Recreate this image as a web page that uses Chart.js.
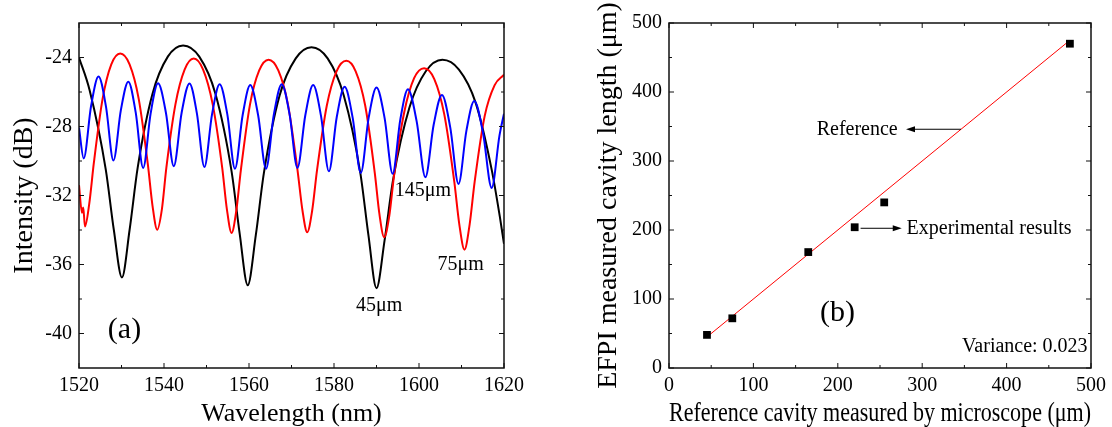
<!DOCTYPE html>
<html>
<head>
<meta charset="utf-8">
<script src="https://cdn.jsdelivr.net/npm/chart.js@4.4.1/dist/chart.umd.min.js"></script>
<style>
  body { margin: 0; background: #fff; width: 1112px; height: 427px; overflow: hidden; position: relative; }
  #spectra { position: absolute; left: 0; top: 0; }
  #cavity { position: absolute; left: 560px; top: 0; }
</style>
</head>
<body>
<canvas id="spectra" width="530" height="427"></canvas>
<canvas id="cavity" width="552" height="427"></canvas>
<script>
// (a) transmission spectra: wavelength (nm) and intensity (dB)
const wl45 = [1520, 1522.5, 1526.3, 1528.2, 1530.1, 1531.9, 1533.8, 1537.3, 1540.9, 1544.5,
  1548.3, 1552.1, 1555.9, 1557.8, 1559.7, 1561.6, 1563.5, 1567.2, 1571.0, 1574.7,
  1578.5, 1582.3, 1586.2, 1588.1, 1590.0, 1591.9, 1593.9, 1597.75, 1601.6, 1605.5,
  1609.4, 1613.3, 1617.1, 1619.0, 1620];
const db45 = [-24.0, -25.9, -30.5, -34.0, -36.75, -34.0, -30.4, -26.1, -23.95, -23.3,
  -23.95, -26.1, -30.6, -34.2, -37.2, -34.3, -30.7, -26.2, -24.05, -23.4,
  -24.05, -26.2, -30.7, -34.3, -37.37, -34.6, -31.1, -26.9, -24.8, -24.13,
  -24.7, -26.6, -30.5, -33.2, -34.8];

const wl75 = [1520, 1520.7, 1521.0, 1521.4, 1522.4, 1523.5, 1525.55, 1527.6, 1529.7, 1531.9,
  1534.05, 1536.2, 1537.3, 1538.4, 1539.5, 1540.55, 1542.7, 1544.85, 1547.0, 1549.2,
  1551.45, 1553.7, 1554.8, 1555.9, 1557.0, 1558.1, 1560.25, 1562.4, 1564.6, 1566.9,
  1569.15, 1571.4, 1572.6, 1573.7, 1574.85, 1576.0, 1578.3, 1580.6, 1582.9, 1585.1,
  1587.35, 1589.6, 1590.7, 1591.8, 1593.0, 1594.15, 1596.5, 1598.85, 1601.2, 1603.6,
  1605.95, 1608.3, 1609.5, 1610.7, 1611.9, 1613.1, 1615.45, 1617.8, 1620];
const db75 = [-31.4, -33.0, -32.7, -33.8, -32.5, -30.1, -26.4, -24.4, -23.77, -24.4,
  -26.4, -30.2, -32.6, -33.98, -32.8, -30.4, -26.7, -24.7, -24.06, -24.7,
  -26.7, -30.4, -32.8, -34.17, -32.9, -30.5, -26.7, -24.75, -24.13, -24.75,
  -26.7, -30.5, -32.9, -34.13, -32.9, -30.55, -26.8, -24.8, -24.19, -24.8,
  -26.8, -30.7, -33.1, -34.42, -33.2, -30.8, -27.2, -25.2, -24.62, -25.25,
  -27.3, -31.2, -33.7, -35.14, -33.7, -31.2, -27.4, -25.6, -25.0];

const wl145 = [1520, 1521.1, 1522.85, 1524.6, 1526.35, 1528.1, 1529.85, 1531.6, 1533.35, 1535.1,
  1536.85, 1538.6, 1540.45, 1542.3, 1544.15, 1546.0, 1547.75, 1549.5, 1551.3, 1553.1,
  1554.9, 1556.7, 1558.5, 1560.3, 1562.15, 1564.0, 1565.85, 1567.7, 1569.55, 1571.4,
  1573.25, 1575.1, 1576.95, 1578.8, 1580.65, 1582.5, 1584.4, 1586.3, 1588.15, 1590.0,
  1591.9, 1593.8, 1595.6, 1597.4, 1599.45, 1601.5, 1603.45, 1605.4, 1607.35, 1609.3,
  1611.15, 1613.0, 1615.05, 1617.1, 1618.95, 1620];
const db145 = [-28.07, -29.85, -26.8, -25.1, -26.85, -29.97, -27.05, -25.4, -27.2, -30.4,
  -27.25, -25.5, -27.2, -30.3, -27.2, -25.5, -27.25, -30.35, -27.3, -25.55,
  -27.3, -30.45, -27.35, -25.6, -27.35, -30.45, -27.3, -25.55, -27.3, -30.4,
  -27.35, -25.6, -27.4, -30.6, -27.45, -25.7, -27.5, -30.7, -27.5, -25.74,
  -27.5, -30.74, -27.6, -25.84, -27.7, -30.94, -27.9, -26.17, -28.05, -31.33,
  -28.25, -26.52, -28.35, -31.56, -28.5, -27.26];

const specXTicks = [1520, 1540, 1560, 1580, 1600, 1620];
const specXMinor = [1530, 1550, 1570, 1590, 1610];
const specYTicks = [-40, -36, -32, -28, -24];
const specYMinor = [-38, -34, -30, -26];

// (b) cavity length: microscope vs EFPI (um)
const microscopeLen = [45, 75, 165, 220, 255, 475];
const efpiLen = [48, 72, 168, 204, 240, 470];
const refLineX = [45, 475];
const refLineY = [45, 475];
const cavTicks = [0, 100, 200, 300, 400, 500];
const cavMinor = [50, 150, 250, 350, 450];

const SERIF = "'Liberation Serif', 'Times New Roman', serif";
Chart.defaults.font.family = SERIF;
Chart.defaults.font.size = 20;
Chart.defaults.color = '#000';

const toPts = (xs, ys) => xs.map((x, i) => ({ x: x, y: ys[i] }));
const plainLabel = v => String(v);

// box frame with inward ticks on all four sides
const frameTicks = {
  id: 'frameTicks',
  afterDraw(chart, args, opts) {
    const ctx = chart.ctx;
    const a = chart.chartArea;
    const sx = chart.scales.x, sy = chart.scales.y;
    ctx.save();
    ctx.strokeStyle = '#111';
    ctx.lineWidth = 1;
    const tickX = (vals, len) => {
      vals.forEach(v => {
        const px = sx.getPixelForValue(v);
        ctx.beginPath();
        ctx.moveTo(px, a.bottom); ctx.lineTo(px, a.bottom - len);
        ctx.moveTo(px, a.top); ctx.lineTo(px, a.top + len);
        ctx.stroke();
      });
    };
    const tickY = (vals, len) => {
      vals.forEach(v => {
        const py = sy.getPixelForValue(v);
        ctx.beginPath();
        ctx.moveTo(a.left, py); ctx.lineTo(a.left + len, py);
        ctx.moveTo(a.right, py); ctx.lineTo(a.right - len, py);
        ctx.stroke();
      });
    };
    tickX(opts.xMajor, 5); tickX(opts.xMinor, 3);
    tickY(opts.yMajor, 5); tickY(opts.yMinor, 3);
    ctx.lineWidth = 1.5;
    ctx.strokeRect(a.left, a.top, a.right - a.left, a.bottom - a.top);
    ctx.restore();
  }
};

// text notes and arrows placed in data units
const notes = {
  id: 'notes',
  afterDraw(chart, args, opts) {
    const ctx = chart.ctx;
    const sx = chart.scales.x, sy = chart.scales.y;
    ctx.save();
    ctx.fillStyle = '#000';
    ctx.strokeStyle = '#000';
    ctx.textBaseline = 'middle';
    (opts.texts || []).forEach(t => {
      ctx.font = t.size + 'px ' + SERIF;
      ctx.textAlign = t.align || 'center';
      ctx.fillText(t.text, sx.getPixelForValue(t.x), sy.getPixelForValue(t.y));
    });
    (opts.arrows || []).forEach(r => {
      const x0 = sx.getPixelForValue(r.from[0]), y0 = sy.getPixelForValue(r.from[1]);
      const x1 = sx.getPixelForValue(r.to[0]), y1 = sy.getPixelForValue(r.to[1]);
      const dir = Math.sign(x1 - x0);
      ctx.lineWidth = 1;
      ctx.beginPath();
      ctx.moveTo(x0, y0); ctx.lineTo(x1 - dir * 6, y1);
      ctx.stroke();
      ctx.beginPath();
      ctx.moveTo(x1, y1);
      ctx.lineTo(x1 - dir * 9, y1 - 3);
      ctx.lineTo(x1 - dir * 9, y1 + 3);
      ctx.closePath();
      ctx.fill();
    });
    ctx.restore();
  }
};

// panel (a)
new Chart(document.getElementById('spectra'), {
  type: 'scatter',
  data: {
    datasets: [
      { label: '145um', data: toPts(wl145, db145), borderColor: '#0000ff' },
      { label: '75um', data: toPts(wl75, db75), borderColor: '#ff0000' },
      { label: '45um', data: toPts(wl45, db45), borderColor: '#000000' }
    ]
  },
  options: {
    responsive: false,
    animation: false,
    layout: { padding: { left: 0, top: 23, right: 23, bottom: 0 } },
    datasets: {
      scatter: { showLine: true, pointRadius: 0, borderWidth: 2, cubicInterpolationMode: 'monotone' }
    },
    plugins: {
      legend: { display: false },
      tooltip: { enabled: false },
      frameTicks: { xMajor: specXTicks, xMinor: specXMinor, yMajor: specYTicks, yMinor: specYMinor },
      notes: {
        texts: [
          { text: '45\u03bcm', x: 1590.6, y: -38.4, size: 20 },
          { text: '75\u03bcm', x: 1609.8, y: -36.0, size: 20 },
          { text: '145\u03bcm', x: 1600.9, y: -31.75, size: 20 },
          { text: '(a)', x: 1530.7, y: -39.8, size: 30 }
        ]
      }
    },
    scales: {
      x: {
        type: 'linear', min: 1520, max: 1620,
        afterBuildTicks: s => { s.ticks = specXTicks.map(v => ({ value: v })); },
        afterFit: s => { s.height = 59; },
        grid: { display: false, drawTicks: false },
        border: { display: false },
        ticks: { font: { family: SERIF, size: 20 }, color: '#000', padding: 6, maxRotation: 0, autoSkip: false, callback: plainLabel },
        title: { display: true, text: 'Wavelength (nm)', color: '#000',
          font: { family: SERIF, size: 26 }, padding: { top: 0, bottom: -3 } }
      },
      y: {
        type: 'linear', min: -42, max: -22,
        afterBuildTicks: s => { s.ticks = specYTicks.map(v => ({ value: v })); },
        afterFit: s => { s.width = 79; },
        grid: { display: false, drawTicks: false },
        border: { display: false },
        ticks: { font: { family: SERIF, size: 20 }, color: '#000', padding: 7, callback: plainLabel },
        title: { display: true, text: 'Intensity (dB)', color: '#000',
          font: { family: SERIF, size: 28 }, padding: { top: 8, bottom: 0 } }
      }
    }
  },
  plugins: [frameTicks, notes]
});

// panel (b)
new Chart(document.getElementById('cavity'), {
  type: 'scatter',
  data: {
    datasets: [
      { label: 'Experimental results', data: toPts(microscopeLen, efpiLen),
        pointStyle: 'rect', pointRadius: 5.5, backgroundColor: '#000', borderColor: '#000', borderWidth: 0 },
      { label: 'Reference', data: toPts(refLineX, refLineY), showLine: true,
        pointRadius: 0, borderColor: '#ff0000', borderWidth: 1 }
    ]
  },
  options: {
    responsive: false,
    animation: false,
    layout: { padding: { left: 0, top: 23, right: 15, bottom: 0 } },
    plugins: {
      legend: { display: false },
      tooltip: { enabled: false },
      frameTicks: { xMajor: cavTicks, xMinor: cavMinor, yMajor: cavTicks, yMinor: cavMinor },
      notes: {
        texts: [
          { text: 'Reference', x: 271, y: 346, size: 20, align: 'right' },
          { text: 'Experimental results', x: 281.5, y: 202.5, size: 20, align: 'left' },
          { text: '(b)', x: 199.7, y: 79.5, size: 30 },
          { text: 'Variance: 0.023', x: 496, y: 30.5, size: 20, align: 'right' }
        ],
        arrows: [
          { from: [346, 346], to: [280.8, 346] },
          { from: [227, 202.5], to: [275.8, 202.5] }
        ]
      }
    },
    scales: {
      x: {
        type: 'linear', min: 0, max: 500,
        afterBuildTicks: s => { s.ticks = cavTicks.map(v => ({ value: v })); },
        afterFit: s => { s.height = 59; },
        grid: { display: false, drawTicks: false },
        border: { display: false },
        ticks: { font: { family: SERIF, size: 20 }, color: '#000', padding: 6, maxRotation: 0, autoSkip: false, callback: plainLabel },
        title: { display: true, text: 'Reference cavity measured by microscope (\u03bcm)', color: '#000',
          font: { family: SERIF, size: 26.5 }, padding: { top: 0, bottom: -3 } }
      },
      y: {
        type: 'linear', min: 0, max: 500,
        afterBuildTicks: s => { s.ticks = cavTicks.map(v => ({ value: v })); },
        afterFit: s => { s.width = 109; },
        grid: { display: false, drawTicks: false },
        border: { display: false },
        ticks: { font: { family: SERIF, size: 20 }, color: '#000', padding: 7, callback: plainLabel },
        title: { display: true, text: 'EFPI measured cavity length (\u03bcm)', color: '#000',
          font: { family: SERIF, size: 28 }, padding: { top: 32, bottom: 0 } }
      }
    }
  },
  plugins: [frameTicks, notes]
});
</script>
</body>
</html>
